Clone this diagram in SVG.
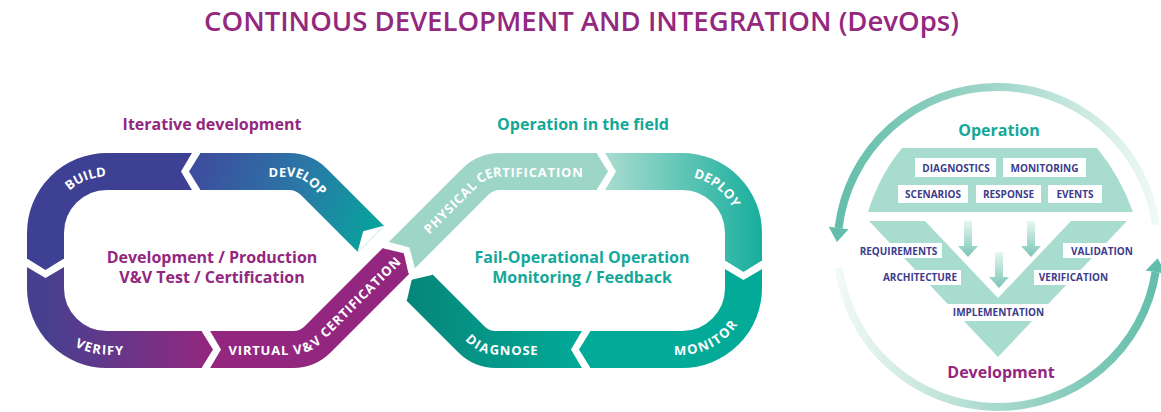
<svg xmlns="http://www.w3.org/2000/svg" width="1161" height="412" viewBox="0 0 1161 412">
<style>
  text { font-family: "Open Sans", "Liberation Sans", sans-serif; font-weight: 700; }
  .title { font-size: 27.5px; font-weight: 600; fill: #94287f; }
  .hp { font-size: 16px; fill: #93277f; text-anchor: middle; }
  .ht { font-size: 16px; fill: #13a899; text-anchor: middle; }
  .band { fill: none; stroke-width: 37; }
  .bl { font-size: 13px; fill: #ffffff; letter-spacing: 0.8px; dominant-baseline: central; }
  .notch { fill: #ffffff; }
  .box { fill: #ffffff; }
  .vl { font-size: 10px; fill: #3c3b8c; text-anchor: middle; }
  .vfill { fill: #a8dccf; }
  .ring { fill: none; stroke-width: 8; }
</style>
<defs>
  <linearGradient id="gDevelop" gradientUnits="userSpaceOnUse" x1="200" y1="171" x2="386" y2="240">
    <stop offset="0" stop-color="#3c4f9f"/><stop offset="0.5" stop-color="#2a78a6"/><stop offset="1" stop-color="#03a99b"/>
  </linearGradient>
  <linearGradient id="gVerify" gradientUnits="userSpaceOnUse" x1="40" y1="0" x2="208" y2="0">
    <stop offset="0" stop-color="#46408f"/><stop offset="0.5" stop-color="#6a3588"/><stop offset="1" stop-color="#93277f"/>
  </linearGradient>
  <linearGradient id="gDeploy" gradientUnits="userSpaceOnUse" x1="605" y1="0" x2="762" y2="0">
    <stop offset="0" stop-color="#a8dccf"/><stop offset="1" stop-color="#17ae9d"/>
  </linearGradient>
  <linearGradient id="gDiagnose" gradientUnits="userSpaceOnUse" x1="585" y1="0" x2="408" y2="0">
    <stop offset="0" stop-color="#03aa98"/><stop offset="1" stop-color="#06867a"/>
  </linearGradient>
  <linearGradient id="gRingA" gradientUnits="userSpaceOnUse" x1="835" y1="0" x2="1160" y2="0">
    <stop offset="0" stop-color="#62bdaa"/><stop offset="0.55" stop-color="#a8dacd"/><stop offset="1" stop-color="#f2faf8"/>
  </linearGradient>
  <linearGradient id="gRingB" gradientUnits="userSpaceOnUse" x1="835" y1="0" x2="1160" y2="0">
    <stop offset="0" stop-color="#f2faf8"/><stop offset="0.45" stop-color="#aedccf"/><stop offset="1" stop-color="#62bdaa"/>
  </linearGradient>
  <linearGradient id="gArrow" x1="0" y1="0" x2="0" y2="1">
    <stop offset="0" stop-color="#e8f6f2"/><stop offset="1" stop-color="#79c5b5"/>
  </linearGradient>
  <path id="tpLT" d="M 45.5,288 L 45.5,233 A 61.5 61.5 0 0 1 107,171.5 L 289,171.5 A 35 35 0 0 1 313.75,181.75 L 371,239"/>
  <path id="tpLB" d="M 45.5,233 L 45.5,288 A 61.5 61.5 0 0 0 107,349.5 L 293,349.5 A 35 35 0 0 0 317.75,339.25 L 396,261"/>
  <path id="tpRT" d="M 403.5,253.5 L 475.25,181.75 A 35 35 0 0 1 500,171.5 L 682,171.5 A 61.5 61.5 0 0 1 743.5,233 L 743.5,288"/>
  <path id="tpRB" d="M 419.5,287.5 L 471.25,339.25 A 35 35 0 0 0 496,349.5 L 682,349.5 A 61.5 61.5 0 0 0 743.5,288 L 743.5,233"/>
</defs>

<g id="title">
  <text class="title" x="581.5" y="31" text-anchor="middle">CONTINOUS DEVELOPMENT AND INTEGRATION (DevOps)</text>
</g>

<g id="labels">
  <text class="hp" x="212" y="130">Iterative development</text>
  <text class="ht" x="583" y="130">Operation in the field</text>
  <text class="hp" x="212" y="262.5">Development / Production</text>
  <text class="hp" x="212" y="282.5">V&amp;V Test / Certification</text>
  <text class="ht" x="582" y="262.5">Fail-Operational Operation</text>
  <text class="ht" x="582" y="282.5">Monitoring / Feedback</text>
</g>

<g id="diagnose">
  <path class="band" stroke="url(#gDiagnose)" d="M 582,349.5 L 496,349.5 A 35 35 0 0 1 471.25,339.25 L 419.5,287.5"/>
  <polygon class="notch" points="582.5,330 571,349.5 582.5,369"/>
  <polygon fill="url(#gDiagnose)" points="432.93,274.77 411.72,279.72 406.77,300.93"/>
  <text class="bl"><textPath href="#tpRB" startOffset="106" text-anchor="middle">DIAGNOSE</textPath></text>
</g>

<g id="monitor">
  <path class="band" stroke="#03aa98" d="M 743.5,269 L 743.5,288 A 61.5 61.5 0 0 1 682,349.5 L 590,349.5"/>
  <polygon class="notch" points="724,268.5 743.5,280 763,268.5"/>
  <polygon fill="#03aa98" points="590.5,331 579,349.5 590.5,368"/>
  <text class="bl"><textPath href="#tpRB" startOffset="313.5" text-anchor="middle">MONITOR</textPath></text>
</g>

<g id="deploy">
  <path class="band" stroke="url(#gDeploy)" d="M 605,171.5 L 682,171.5 A 61.5 61.5 0 0 1 743.5,233 L 743.5,261"/>
  <polygon class="notch" points="604.5,152 616,171.5 604.5,191"/>
  <polygon fill="url(#gDeploy)" points="725,260.5 743.5,272 762,260.5"/>
  <text class="bl"><textPath href="#tpRT" startOffset="351.8" text-anchor="middle">DEPLOY</textPath></text>
</g>

<g id="physical-certification">
  <path class="band" stroke="#9dd5c7" d="M 401.65,255.35 L 475.25,181.75 A 35 35 0 0 1 500,171.5 L 597,171.5"/>
  <polygon class="notch" points="415.2,268.9 409.43,247.57 388.1,241.8"/>
  <polygon fill="#9dd5c7" points="596.5,153 608,171.5 596.5,190"/>
  <text class="bl"><textPath href="#tpRT" startOffset="122" text-anchor="middle">PHYSICAL CERTIFICATION</textPath></text>
</g>

<g id="virtual-certification">
  <path class="band" stroke="#93277f" d="M 210,349.5 L 293,349.5 A 35 35 0 0 0 317.75,339.25 L 396,261"/>
  <polygon class="notch" points="209.5,330 221,349.5 209.5,369"/>
  <polygon fill="#93277f" points="382.57,248.27 403.78,253.22 408.73,274.43"/>
  <text class="bl"><textPath href="#tpLB" startOffset="376" text-anchor="middle">VIRTUAL V&amp;V CERTIFICATION</textPath></text>
</g>

<g id="verify">
  <path class="band" stroke="url(#gVerify)" d="M 45.5,267 L 45.5,288 A 61.5 61.5 0 0 0 107,349.5 L 202,349.5"/>
  <polygon class="notch" points="26,266.5 45.5,278 65,266.5"/>
  <polygon fill="url(#gVerify)" points="201.5,331 213,349.5 201.5,368"/>
  <text class="bl"><textPath href="#tpLB" startOffset="144" text-anchor="middle">VERIFY</textPath></text>
</g>

<g id="build">
  <path class="band" stroke="#3e4193" d="M 192,171.5 L 107,171.5 A 61.5 61.5 0 0 0 45.5,233 L 45.5,259"/>
  <polygon class="notch" points="192.5,152 181,171.5 192.5,191"/>
  <polygon fill="#3e4193" points="27,258.5 45.5,270 64,258.5"/>
  <text class="bl"><textPath href="#tpLT" startOffset="129" text-anchor="middle">BUILD</textPath></text>
</g>

<g id="develop">
  <path class="band" stroke="url(#gDevelop)" d="M 371,239 L 313.75,181.75 A 35 35 0 0 0 289,171.5 L 200,171.5"/>
  <polygon class="notch" points="384.6,225.4 363.22,231.22 357.4,252.6"/>
  <polygon fill="url(#gDevelop)" points="200.5,153 189,171.5 200.5,190"/>
  <text class="bl"><textPath href="#tpLT" startOffset="345" text-anchor="middle">DEVELOP</textPath></text>
</g>

<g id="operation-block">
  <path class="vfill" d="M 902,148 L 1097,148 Q 1120,176 1133,212 L 868,212 Q 879,176 902,148 Z"/>
  <text x="999" y="136" style="font-size:16px;fill:#13a899;text-anchor:middle">Operation</text>
  <rect class="box" x="915" y="158" width="81" height="19"/>
  <text class="vl" x="956" y="171.5">DIAGNOSTICS</text>
  <rect class="box" x="1003" y="158" width="83" height="19"/>
  <text class="vl" x="1044.5" y="171.5">MONITORING</text>
  <rect class="box" x="898" y="185" width="70" height="18"/>
  <text class="vl" x="933" y="197.5">SCENARIOS</text>
  <rect class="box" x="976" y="185" width="65" height="18"/>
  <text class="vl" x="1008.5" y="197.5">RESPONSE</text>
  <rect class="box" x="1048" y="185" width="54" height="18"/>
  <text class="vl" x="1075" y="197.5">EVENTS</text>
</g>

<g id="v-model">
  <path class="vfill" fill-rule="evenodd" d="M 869,221 L 1127,221 L 998,357 Z M 925,221 L 998,298 L 1071,221 Z"/>
  <rect class="box" x="855" y="243" width="87" height="15"/>
  <text class="vl" x="898.5" y="254.5">REQUIREMENTS</text>
  <rect class="box" x="878" y="270" width="83" height="15"/>
  <text class="vl" x="920" y="281">ARCHITECTURE</text>
  <rect class="box" x="1063" y="243" width="75" height="15"/>
  <text class="vl" x="1102" y="254.5">VALIDATION</text>
  <rect class="box" x="1034" y="270" width="78" height="15"/>
  <text class="vl" x="1073.5" y="281">VERIFICATION</text>
  <rect class="box" x="946" y="304" width="105" height="17"/>
  <text class="vl" x="998.5" y="316">IMPLEMENTATION</text>
  <text x="1001" y="378" style="font-size:16px;fill:#93277f;text-anchor:middle">Development</text>
</g>

<g id="connectors">
  <path class="ring" stroke="url(#gRingA)" d="M 1155.94,224.73 A 160 160 0 0 0 838.6,228"/>
  <polygon fill="#62bdaa" points="828.67,226.82 836.95,241.9 848.53,229.18"/>
  <path class="ring" stroke="url(#gRingB)" d="M 838.87,267.88 A 160 160 0 0 0 1155.53,272.03"/>
  <polygon fill="#62bdaa" points="1145.65,270.47 1157.72,258.2 1165.41,273.59"/>
  <path fill="url(#gArrow)" d="M 964,221 L 972,221 L 972,246 L 978,246 L 968,257 L 958,246 L 964,246 Z"/>
  <path fill="url(#gArrow)" d="M 1027,221 L 1035,221 L 1035,246 L 1041,246 L 1031,257 L 1021,246 L 1027,246 Z"/>
  <path fill="url(#gArrow)" d="M 995,252 L 1003,252 L 1003,277 L 1009,277 L 999,288 L 989,277 L 995,277 Z"/>
</g>
</svg>
